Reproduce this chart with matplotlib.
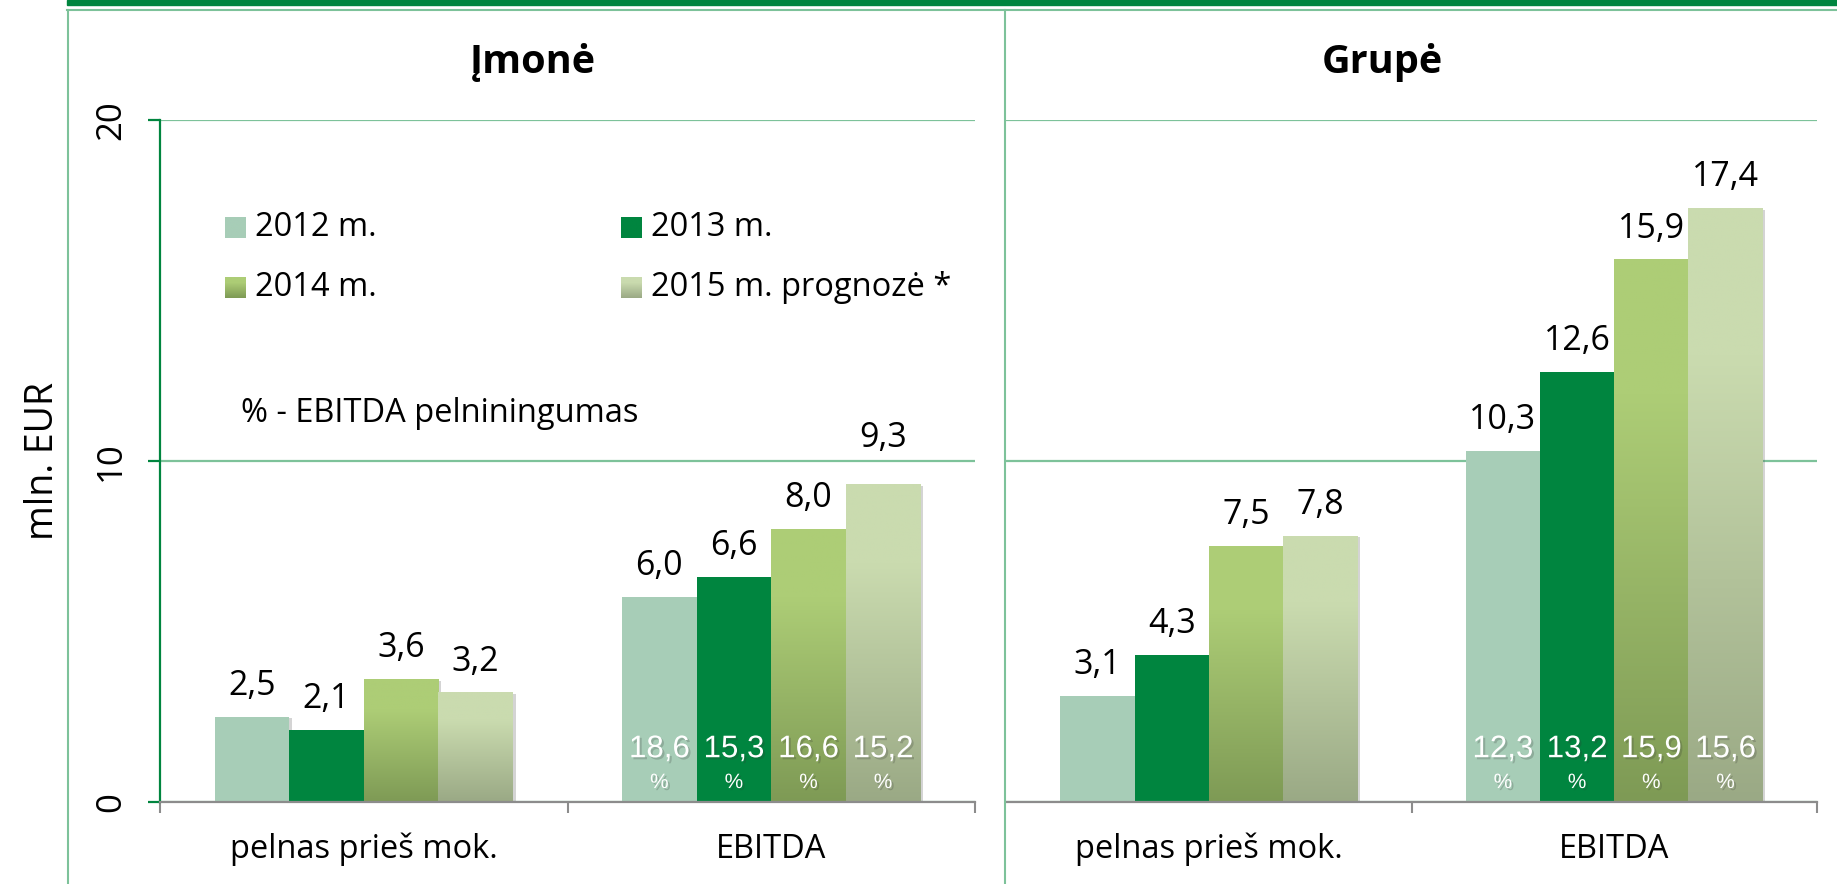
import numpy as np
import matplotlib
matplotlib.use('Agg')
import matplotlib.pyplot as plt
import matplotlib.patheffects as pe
from matplotlib.colors import LinearSegmentedColormap
from matplotlib.lines import Line2D
from matplotlib.patches import Rectangle

plt.rcParams['font.family'] = ['Open Sans', 'DejaVu Sans']

# data
CATEGORIES = ['pelnas prieš mok.', 'EBITDA']
SERIES = ['2012 m.', '2013 m.', '2014 m.', '2015 m. prognozė *']
PANELS = ['Įmonė', 'Grupė']
IMONE = [[2.5, 6.0], [2.1, 6.6], [3.6, 8.0], [3.2, 9.3]]
GRUPE = [[3.1, 10.3], [4.3, 12.6], [7.5, 15.9], [7.8, 17.4]]
IMONE_MARGIN = [18.6, 15.3, 16.6, 15.2]
GRUPE_MARGIN = [12.3, 13.2, 15.9, 15.6]
NOTE = '% - EBITDA pelniningumas'

# styles (top colour, bottom colour) per series
FILLS = [('#A7CDB7', '#A7CDB7'), ('#00853F', '#00853F'),
         ('#ADCD76', '#7E9A55'), ('#CADBAF', '#9AA985')]
GRID = '#7DC29A'
DARK = '#00853F'
AXIS_GREY = '#8C8C8C'

W, H = 1837, 884
fig = plt.figure(figsize=(W / 100, H / 100), dpi=100)


def fx(px):
    return px / W


def fy(py):
    return 1 - py / H


def gradient_cmap(top, bottom):
    if top == bottom:
        return LinearSegmentedColormap.from_list('', [top, top])
    return LinearSegmentedColormap.from_list('', [(0, top), (0.25, top), (1, bottom)])


def draw_panel(ax, values, margins, left_axis):
    n = len(SERIES)
    width = 0.183
    x = np.arange(len(CATEGORIES))
    ax.set_axisbelow(True)
    for i in range(n):
        pos = x + (i - (n - 1) / 2) * width
        bars = ax.bar(pos, values[i], width, color=FILLS[i][1], zorder=2,
                      path_effects=[pe.SimplePatchShadow(offset=(2, -1), shadow_rgbFace='#555555', alpha=0.25),
                                    pe.Normal()])
        cmap = gradient_cmap(*FILLS[i])
        for b, v in zip(bars, values[i]):
            if FILLS[i][0] != FILLS[i][1]:
                grad = np.linspace(0, 1, 256).reshape(-1, 1)
                ax.imshow(grad, cmap=cmap, aspect='auto', origin='upper', zorder=2.5,
                          extent=[b.get_x(), b.get_x() + b.get_width(), 0, b.get_height()])
            extra = 11 if (left_axis and v == 9.3) else 0
            ax.annotate(f'{v:.1f}'.replace('.', ','), (b.get_x() + b.get_width() / 2, v),
                        xytext=(0, 16 + extra), textcoords='offset points',
                        ha='center', va='baseline', fontsize=24.5, zorder=4)
        # EBITDA margin labels inside the bars
        b = bars[1]
        cx = b.get_x() + b.get_width() / 2
        shadow = [pe.withSimplePatchShadow(offset=(1.5, -1.5), shadow_rgbFace='#333333', alpha=0.22)]
        ax.annotate(f'{margins[i]:.1f}'.replace('.', ','), (cx, 0), xytext=(0, 38),
                    textcoords='offset points', ha='center', va='center', color='white',
                    fontsize=22.5, family='Liberation Sans', zorder=5, path_effects=shadow)
        ax.annotate('%', (cx, 0), xytext=(0, 14), textcoords='offset points',
                    ha='center', va='center', color='white', fontsize=15,
                    family='Liberation Sans', zorder=5, path_effects=shadow)

    ax.set_xlim(-0.5, len(CATEGORIES) - 0.5)
    ax.set_ylim(0, 20)
    ax.set_yticks([0, 10, 20])
    ax.yaxis.grid(True, color=GRID, linewidth=1.6)
    ax.set_xticks(x)
    ax.set_xticklabels(CATEGORIES, fontsize=23.5)
    ax.tick_params(axis='x', length=0, pad=22)
    minor = [-0.5, 0.5, 1.5] if left_axis else [0.5, 1.5]
    ax.set_xticks(minor, minor=True)
    ax.tick_params(axis='x', which='minor', length=8, width=1.5, color=AXIS_GREY)
    for s in ['top', 'right']:
        ax.spines[s].set_visible(False)
    ax.spines['bottom'].set_color(AXIS_GREY)
    ax.spines['bottom'].set_linewidth(1.6)
    if left_axis:
        ax.spines['left'].set_color(DARK)
        ax.spines['left'].set_linewidth(1.6)
        ax.tick_params(axis='y', length=9, width=1.6, color=DARK, pad=14)
        for lab in ax.get_yticklabels():
            lab.set_rotation(90)
            lab.set_va('center')
            lab.set_fontsize(25)
        ax.set_ylabel('mln. EUR', fontsize=27, labelpad=23)
    else:
        ax.spines['left'].set_visible(False)
        ax.tick_params(axis='y', length=0, labelleft=False)


ax1 = fig.add_axes([fx(160), fy(802), 815 / W, 682 / H])
ax2 = fig.add_axes([fx(1006), fy(802), 811 / W, 682 / H])
draw_panel(ax1, IMONE, IMONE_MARGIN, True)
draw_panel(ax2, GRUPE, GRUPE_MARGIN, False)

# panel titles
fig.text(fx(533), fy(63), PANELS[0], ha='center', va='center', fontsize=28.5, fontweight='bold')
fig.text(fx(1382), fy(63), PANELS[1], ha='center', va='center', fontsize=28.5, fontweight='bold')

# frame
fig.add_artist(Rectangle((fx(67), fy(5)), 1 - fx(67), 5 / H, transform=fig.transFigure,
                         color=DARK, zorder=5))
fig.add_artist(Line2D([fx(67), 1], [fy(10), fy(10)], color=GRID, lw=1.5))
fig.add_artist(Line2D([fx(68), fx(68)], [0, fy(10)], color=GRID, lw=1.5))
fig.add_artist(Line2D([fx(1005), fx(1005)], [0, fy(10)], color=GRID, lw=1.5))

# legend, drawn by hand so the gradient swatches can be shown
leg = fig.add_axes([0, 0, 1, 1], zorder=6)
leg.set_xlim(0, W)
leg.set_ylim(H, 0)
leg.axis('off')
spots = [(225, 228), (621, 228), (225, 288), (621, 288)]
for (sx, sy), name, fill in zip(spots, SERIES, FILLS):
    grad = np.linspace(0, 1, 64).reshape(-1, 1)
    leg.imshow(grad, cmap=gradient_cmap(*fill), aspect='auto',
               extent=[sx, sx + 21, sy + 10.5, sy - 10.5])
    leg.text(sx + 30, sy, name, ha='left', va='center', fontsize=23.5)
leg.text(241, 414, NOTE, ha='left', va='center', fontsize=23.5)
leg.set_xlim(0, W)
leg.set_ylim(H, 0)

fig.savefig('out.png', dpi=100)
